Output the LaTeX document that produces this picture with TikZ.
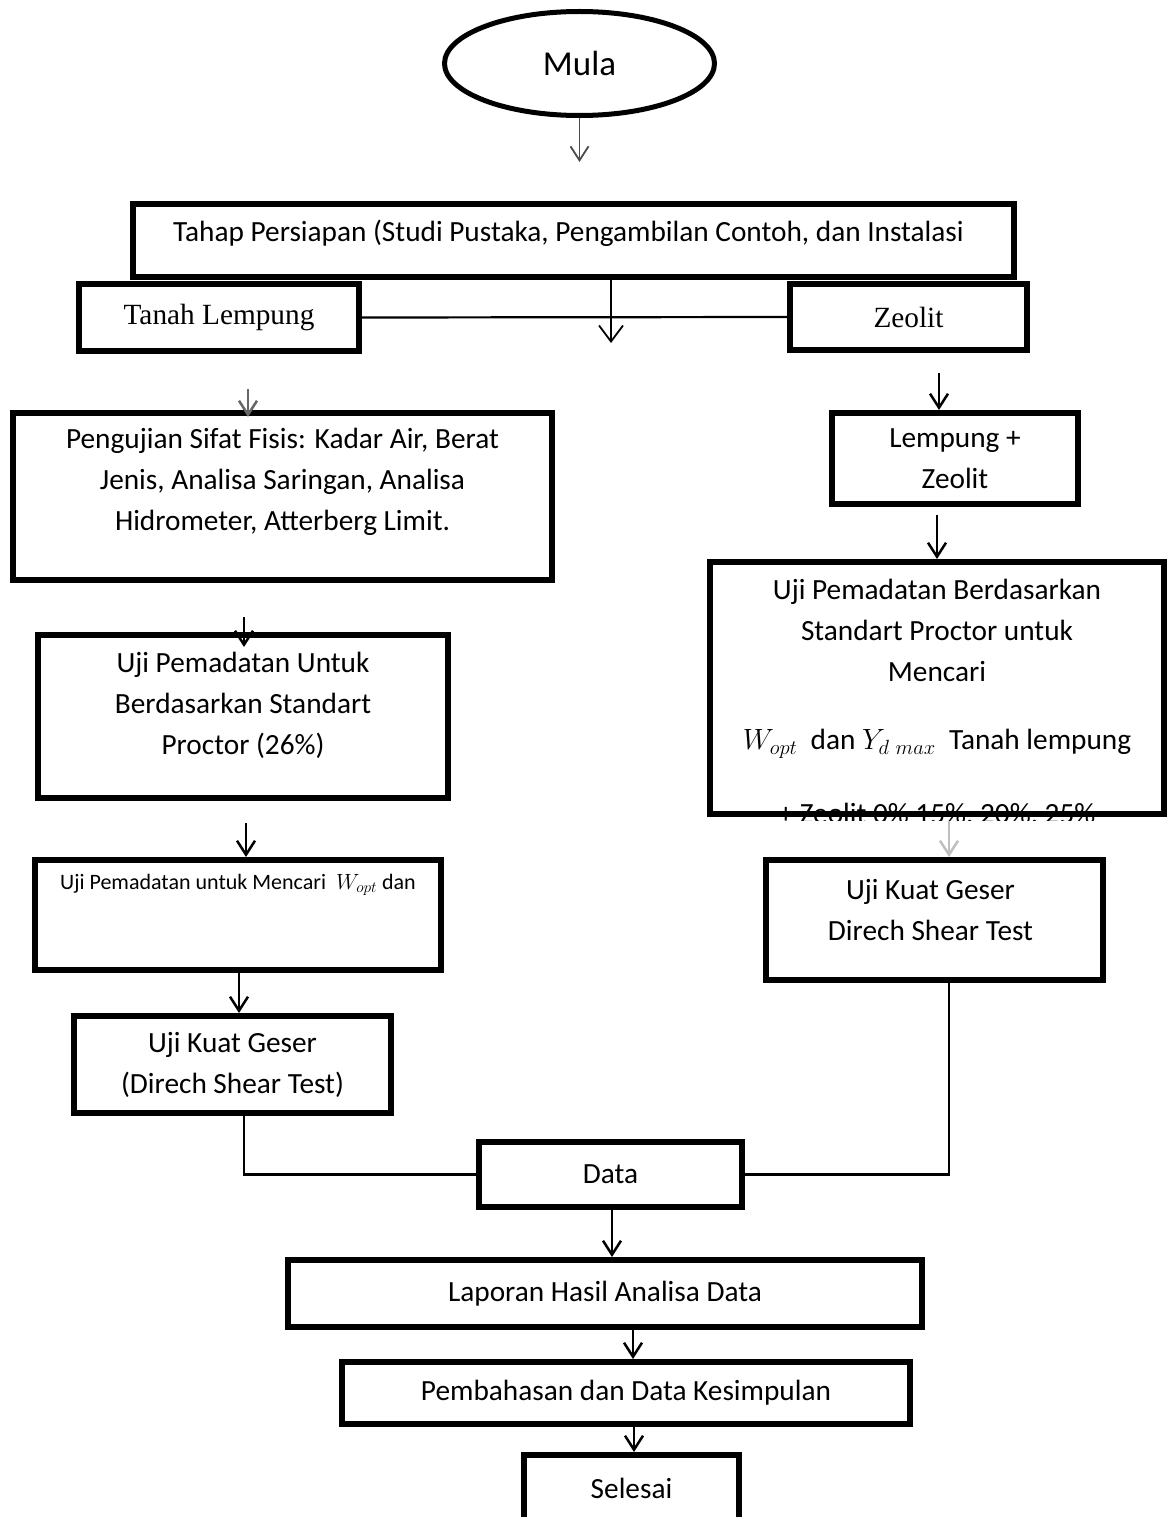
\RequirePackage{fix-cm}
\documentclass[tikz,border=0pt]{standalone}
\usepackage{fontspec}
\setmainfont{Carlito}
\newfontfamily\timesfont{Liberation Serif}
\usetikzlibrary{arrows.meta,shapes.geometric}

\begin{document}
\begin{tikzpicture}[x=1pt,y=-1pt]
	\tikzset{box/.style = {rectangle,draw,line width=6pt,fill=white,inner sep=0pt,align=center,font=\fontsize{29.3}{41}\selectfont}}
	\tikzset{txt/.style = {align=center,inner sep=0pt,font=\fontsize{29.3}{41}\selectfont}}
	\tikzstyle{edge} = [-{Straight Barb[length=14pt,width=18pt]},line width=2.5pt]
	\tikzstyle{edgeThin} = [-{Straight Barb[length=16pt,width=24pt]},line width=1.8pt]
	\tikzstyle{link} = [line width=2.2pt]
	\clip (0,0) rectangle (1170,1517);
	\fill[white] (0,0) rectangle (1170,1517);
	%top
	\node[ellipse,draw,line width=5pt,minimum width=270pt,minimum height=104pt,font=\fontsize{35}{42}\selectfont] (mula) at (579.5,63.5) {Mula};
	\node[box,minimum width=881pt,minimum height=73pt,label={[txt,xshift=-5pt,yshift=7pt]center:{Tahap Persiapan (Studi Pustaka, Pengambilan Contoh, dan Instalasi}}] (tahap) at (573.5,240.5) {};
	\node[box,minimum width=280pt,minimum height=67pt] (tanah) at (219,317.5) {\timesfont Tanah Lempung};
	\node[box,minimum width=237pt,minimum height=66pt] (zeolit) at (908.5,317) {\timesfont Zeolit};
	\coordinate (split) at (611,343);
	%left column
	\node[box,minimum width=539pt,minimum height=167pt,label={[txt,yshift=14.5pt]center:{Pengujian Sifat Fisis: Kadar Air, Berat\\Jenis, Analisa Saringan, Analisa\\Hidrometer, Atterberg Limit.}}] (fisis) at (282.5,496.5) {};
	\node[box,minimum width=410pt,minimum height=163pt,label={[txt,yshift=11.5pt]center:{Uji Pemadatan Untuk\\Berdasarkan Standart\\Proctor (26\%)}}] (pemL) at (243,716.5) {};
	\node[box,minimum width=406pt,minimum height=110pt,label={[txt,yshift=30pt,font=\fontsize{22}{30}\selectfont]center:{Uji Pemadatan untuk Mencari \ $W_{opt}$ dan}}] (wopt) at (238,915) {};
	\node[box,minimum width=317pt,minimum height=97pt] (geserL) at (232.5,1064.5) {Uji Kuat Geser\\(Direch Shear Test)};
	%right column
	\node[box,minimum width=246pt,minimum height=91pt] (lz) at (955,458.5) {Lempung +\\Zeolit};
	\node[box,minimum width=454pt,minimum height=252pt,label={[txt,yshift=19pt]center:{Uji Pemadatan Berdasarkan\\Standart Proctor untuk\\Mencari\\[27pt]$W_{opt}$ \ dan $Y_{d\ max}$ \ Tanah lempung}}] (pemR) at (937,688) {};
	\begin{scope}
		\clip ([shift={(3pt,-3pt)}]pemR.south west) rectangle ([shift={(-3pt,3pt)}]pemR.north east);
		\node[txt] (pemRlast) at ([yshift=-127pt]pemR.center) {+ Zeolit 0\% 15\%, 20\%, 25\%};
	\end{scope}
	\node[box,minimum width=337pt,minimum height=120pt,label={[txt,xshift=-4pt,yshift=10pt]center:{Uji Kuat Geser\\Direch Shear Test}}] (geserR) at (934.5,920) {};
	%bottom
	\node[box,minimum width=263pt,minimum height=65pt] (data) at (610.5,1174.5) {Data};
	\node[box,minimum width=634pt,minimum height=67pt] (laporan) at (605,1293.5) {Laporan Hasil Analisa Data};
	\node[box,minimum width=568pt,minimum height=62pt] (pembahasan) at (626,1393) {Pembahasan dan Data Kesimpulan};
	\node[box,minimum width=215pt,minimum height=67pt] (selesai) at (631.5,1488.5) {Selesai};
	%connectors top
	\draw[edge,gray!60!black,line width=1.8pt,shorten >=39pt] (mula.south) -- (mula.south |- tahap.north);
	\draw[edgeThin] ([xshift=37.5pt]tahap.south) -- (split);
	\draw[link] (tanah.east) -- (zeolit.west);
	%connectors left
	\draw[edge,gray!80!black,shorten <=35pt,shorten >=-7pt] ([xshift=29pt]tanah.south) -- ([xshift=29pt]tanah.south |- fisis.north);
	\draw[edge,shorten <=34pt,shorten >=-15pt] ([xshift=-38.5pt]fisis.south) -- ([xshift=-38.5pt]fisis.south |- pemL.north);
	\draw[edge,shorten <=22pt] ([xshift=3pt]pemL.south) -- ([xshift=3pt]pemL.south |- wopt.north);
	\draw[edge] ([xshift=1pt]wopt.south) -- ([xshift=1pt]wopt.south |- geserL.north);
	\draw[link] ([xshift=11.5pt]geserL.south) |- (data.west);
	%connectors right
	\draw[edge,shorten <=20pt] ([xshift=30.5pt]zeolit.south) -- ([xshift=30.5pt]zeolit.south |- lz.north);
	\draw[edge,shorten <=8pt] ([xshift=-18pt]lz.south) -- ([xshift=-18pt]lz.south |- pemR.north);
	\draw[edge,gray!50,shorten <=4pt] ([xshift=12pt]pemR.south) -- ([xshift=12pt]pemR.south |- geserR.north);
	\draw[link] ([xshift=14.5pt]geserR.south) |- (data.east);
	%connectors bottom
	\draw[edge] ([xshift=1.5pt]data.south) -- ([xshift=1.5pt]data.south |- laporan.north);
	\draw[edge] ([xshift=28pt]laporan.south) -- ([xshift=28pt]laporan.south |- pembahasan.north);
	\draw[edge] ([xshift=8pt]pembahasan.south) -- ([xshift=8pt]pembahasan.south |- selesai.north);
\end{tikzpicture}
\end{document}
